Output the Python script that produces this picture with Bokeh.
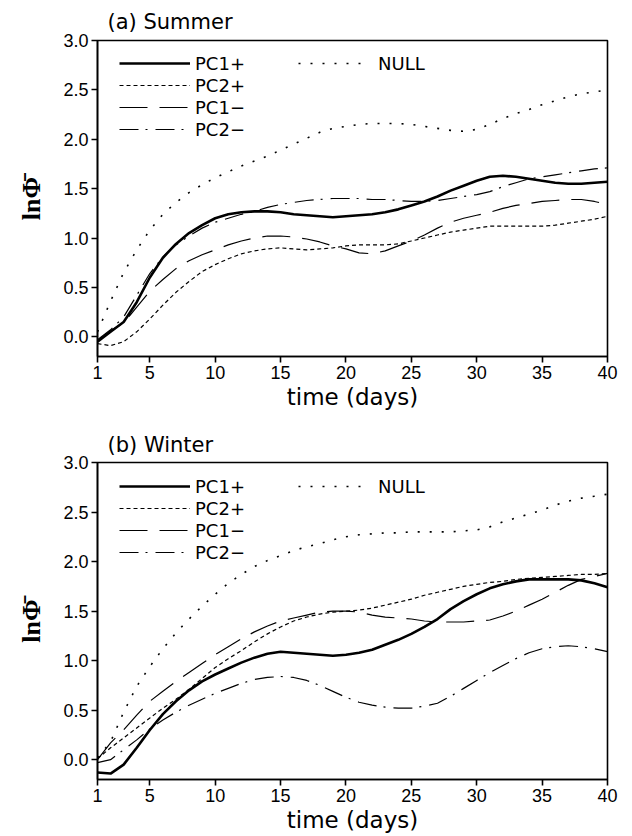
from bokeh.plotting import figure
from bokeh.models import Range1d, FixedTicker, PrintfTickFormatter, Legend, LegendItem
from bokeh.layouts import column
from bokeh.embed import file_html
from bokeh.resources import INLINE

days = list(range(1, 41))
x_ticks = [1, 5, 10, 15, 20, 25, 30, 35, 40]
y_ticks = [0.0, 0.5, 1.0, 1.5, 2.0, 2.5, 3.0]
series_names = ["PC1+", "PC2+", "PC1\u2212", "PC2\u2212", "NULL"]

# (a) Summer
summer_pc1p = [-0.05, 0.05, 0.15, 0.35, 0.60, 0.80, 0.94, 1.05, 1.13, 1.20,
               1.24, 1.26, 1.27, 1.27, 1.26, 1.24, 1.23, 1.22, 1.21, 1.22,
               1.23, 1.24, 1.26, 1.29, 1.33, 1.37, 1.42, 1.48, 1.53, 1.58,
               1.62, 1.63, 1.62, 1.60, 1.58, 1.56, 1.55, 1.55, 1.56, 1.57]
summer_pc2p = [-0.07, -0.09, -0.05, 0.05, 0.18, 0.32, 0.45, 0.56, 0.66, 0.73,
               0.79, 0.84, 0.87, 0.89, 0.90, 0.89, 0.88, 0.89, 0.90, 0.92,
               0.93, 0.93, 0.93, 0.94, 0.97, 1.00, 1.03, 1.06, 1.08, 1.10,
               1.12, 1.12, 1.12, 1.12, 1.12, 1.13, 1.15, 1.17, 1.19, 1.22]
summer_pc1m = [-0.04, 0.06, 0.14, 0.30, 0.46, 0.58, 0.69, 0.77, 0.83, 0.88,
               0.93, 0.97, 1.00, 1.02, 1.02, 1.01, 0.99, 0.96, 0.92, 0.89,
               0.85, 0.84, 0.87, 0.92, 0.97, 1.03, 1.10, 1.16, 1.20, 1.23,
               1.26, 1.30, 1.33, 1.35, 1.37, 1.38, 1.39, 1.39, 1.37, 1.34]
summer_pc2m = [-0.03, 0.07, 0.20, 0.42, 0.64, 0.81, 0.93, 1.02, 1.10, 1.16,
               1.20, 1.24, 1.27, 1.31, 1.34, 1.36, 1.38, 1.39, 1.40, 1.40,
               1.40, 1.39, 1.39, 1.38, 1.37, 1.37, 1.38, 1.40, 1.42, 1.44,
               1.47, 1.52, 1.56, 1.60, 1.62, 1.64, 1.66, 1.68, 1.70, 1.71]
summer_null = [0.05, 0.36, 0.65, 0.88, 1.08, 1.24, 1.36, 1.46, 1.54, 1.61,
               1.67, 1.73, 1.78, 1.83, 1.89, 1.95, 2.01, 2.07, 2.11, 2.13,
               2.15, 2.16, 2.16, 2.16, 2.15, 2.13, 2.11, 2.09, 2.08, 2.10,
               2.15, 2.21, 2.26, 2.30, 2.35, 2.39, 2.43, 2.46, 2.48, 2.50]

# (b) Winter
winter_pc1p = [-0.13, -0.14, -0.05, 0.12, 0.30, 0.46, 0.59, 0.70, 0.79, 0.86,
               0.92, 0.98, 1.03, 1.07, 1.09, 1.08, 1.07, 1.06, 1.05, 1.06,
               1.08, 1.11, 1.16, 1.21, 1.27, 1.34, 1.42, 1.52, 1.60, 1.67,
               1.73, 1.77, 1.80, 1.82, 1.82, 1.82, 1.82, 1.81, 1.78, 1.74]
winter_pc2p = [0.01, 0.12, 0.22, 0.32, 0.42, 0.52, 0.61, 0.71, 0.82, 0.93,
               1.02, 1.10, 1.19, 1.27, 1.34, 1.40, 1.44, 1.47, 1.49, 1.50,
               1.51, 1.53, 1.56, 1.59, 1.62, 1.66, 1.69, 1.72, 1.75, 1.77,
               1.79, 1.80, 1.82, 1.83, 1.84, 1.85, 1.86, 1.87, 1.87, 1.88]
winter_pc1m = [0.00, 0.17, 0.30, 0.45, 0.59, 0.69, 0.79, 0.88, 0.97, 1.06,
               1.14, 1.22, 1.29, 1.35, 1.40, 1.43, 1.46, 1.49, 1.50, 1.50,
               1.49, 1.46, 1.44, 1.43, 1.42, 1.40, 1.39, 1.39, 1.39, 1.40,
               1.41, 1.45, 1.50, 1.56, 1.62, 1.69, 1.76, 1.82, 1.85, 1.88]
winter_pc2m = [-0.03, 0.00, 0.10, 0.20, 0.31, 0.40, 0.48, 0.55, 0.61, 0.67,
               0.72, 0.77, 0.81, 0.83, 0.84, 0.83, 0.80, 0.75, 0.69, 0.63,
               0.58, 0.55, 0.53, 0.52, 0.52, 0.54, 0.57, 0.64, 0.72, 0.80,
               0.88, 0.95, 1.02, 1.08, 1.12, 1.14, 1.15, 1.14, 1.12, 1.09]
winter_null = [0.02, 0.18, 0.48, 0.74, 0.94, 1.12, 1.28, 1.42, 1.55, 1.67,
               1.78, 1.87, 1.95, 2.01, 2.06, 2.11, 2.15, 2.18, 2.22, 2.25,
               2.27, 2.28, 2.29, 2.29, 2.30, 2.30, 2.30, 2.30, 2.31, 2.32,
               2.35, 2.40, 2.44, 2.48, 2.52, 2.57, 2.61, 2.64, 2.66, 2.68]

styles = [
    dict(line_width=2.6, line_dash="solid"),
    dict(line_width=1.2, line_dash="4 3"),
    dict(line_width=1.2, line_dash="28 12"),
    dict(line_width=1.2, line_dash="19 7 2 8"),
    dict(line_width=1.6, line_dash="2 10"),
]

TICK_FONT = "Liberation Sans"
TEXT_FONT = "DejaVu Sans"
Y_LABEL = "ln\u03a6\u0304"


def make_panel(title, data, height, border_top, border_bottom, title_standoff):
    p = figure(width=632, height=height, output_backend="svg", toolbar_location=None,
               x_range=Range1d(1, 40), y_range=Range1d(-0.2, 3.0),
               min_border_left=97, min_border_right=25,
               min_border_top=border_top, min_border_bottom=border_bottom)
    p.title.text = title
    p.title.text_font = TEXT_FONT
    p.title.text_font_size = "21px"
    p.title.text_font_style = "normal"
    p.title.text_color = "black"
    p.title.offset = 10
    p.title.standoff = title_standoff
    p.grid.visible = False
    p.outline_line_color = "black"
    p.outline_line_width = 1.6
    p.background_fill_color = "white"
    p.border_fill_color = "white"

    p.xaxis.ticker = FixedTicker(ticks=x_ticks)
    p.yaxis.ticker = FixedTicker(ticks=y_ticks)
    p.yaxis.formatter = PrintfTickFormatter(format="%.1f")
    p.xaxis.axis_label = "time (days)"
    p.yaxis.axis_label = Y_LABEL
    for ax in (p.xaxis, p.yaxis):
        ax.axis_line_width = 1.6
        ax.major_tick_line_width = 1.6
        ax.major_tick_out = 6
        ax.major_tick_in = 0
        ax.minor_tick_out = 0
        ax.minor_tick_in = 0
        ax.major_label_text_font = TICK_FONT
        ax.major_label_text_font_size = "18px"
        ax.major_label_text_color = "black"
        ax.major_label_standoff = 3
        ax.axis_label_text_color = "black"
    p.xaxis.axis_label_text_font = TEXT_FONT
    p.xaxis.axis_label_text_font_size = "23px"
    p.xaxis.axis_label_text_font_style = "normal"
    p.xaxis.axis_label_standoff = 2
    p.yaxis.axis_label_text_font = "Liberation Serif"
    p.yaxis.axis_label_text_font_size = "26px"
    p.yaxis.axis_label_text_font_style = "bold"
    p.yaxis.axis_label_standoff = 14

    renderers = []
    for ys, st in zip(data, styles):
        r = p.line(days, ys, line_color="black", **st)
        renderers.append(r)

    common = dict(border_line_color=None, background_fill_alpha=0, padding=0, margin=0,
                  glyph_width=71, glyph_height=22, label_height=22, spacing=0,
                  label_standoff=5, label_text_font=TEXT_FONT, label_text_color="black",
                  label_text_font_size="18px", label_text_baseline="middle")
    leg1 = Legend(items=[LegendItem(label=n, renderers=[r])
                         for n, r in zip(series_names[:4], renderers[:4])],
                  location=(22, 216), **common)
    leg2 = Legend(items=[LegendItem(label=series_names[4], renderers=[renderers[4]])],
                  location=(201, 282), **{**common, "label_standoff": 14, "glyph_width": 66})
    p.add_layout(leg1)
    p.add_layout(leg2)
    return p


p1 = make_panel("(a) Summer",
                [summer_pc1p, summer_pc2p, summer_pc1m, summer_pc2m, summer_null],
                424, 40, 68, 14)
p2 = make_panel("(b) Winter",
                [winter_pc1p, winter_pc2p, winter_pc1m, winter_pc2m, winter_null],
                412, 38, 57, 12)

layout = column(p1, p2, spacing=0)
open("out.html", "w").write(file_html(layout, INLINE))
